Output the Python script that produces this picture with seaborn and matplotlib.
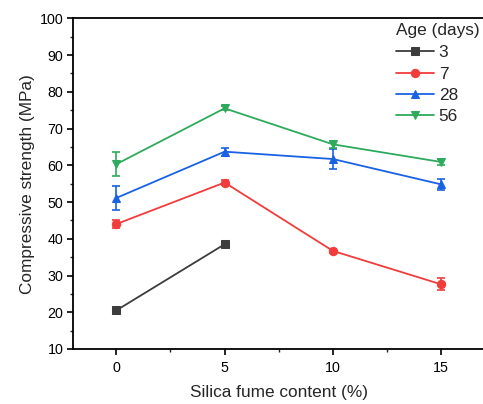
import matplotlib
matplotlib.use("Agg")
import matplotlib.pyplot as plt
import seaborn as sns
import pandas as pd
import numpy as np
from matplotlib.ticker import MultipleLocator

sns.set_theme(style="ticks")
plt.rcParams['font.family'] = ['Liberation Sans', 'DejaVu Sans']

sf_content = [0, 5, 10, 15]
ages = ["3", "7", "28", "56"]
strength_3 = [20.5, 38.5]
strength_7 = [44.0, 55.3, 36.7, 27.6]
strength_28 = [51.1, 63.7, 61.7, 54.8]
strength_56 = [60.3, 75.5, 65.7, 60.9]
err_3 = [0.4, 0.5]
err_7 = [1.0, 0.8, 0.6, 1.6]
err_28 = [3.3, 1.1, 2.8, 1.5]
err_56 = [3.2, 0.5, 1.0, 0.9]

series = {
    "3": (sf_content[:2], strength_3, err_3),
    "7": (sf_content, strength_7, err_7),
    "28": (sf_content, strength_28, err_28),
    "56": (sf_content, strength_56, err_56),
}
colors = {"3": "#3c3c3c", "7": "#f23c3c", "28": "#1a62e4", "56": "#2eaa5c"}
markers = {"3": "s", "7": "o", "28": "^", "56": "v"}

fig = plt.figure(figsize=(4.83, 4.04), dpi=100)
ax = fig.add_axes([73/483, 1 - 349/404, (484.5 - 73)/483, (349 - 18.3)/404])

for age in ages:
    xs, ys, es = series[age]
    df = pd.DataFrame({"x": xs, "y": ys})
    ax.errorbar(xs, ys, yerr=es, fmt="none", ecolor=colors[age], elinewidth=1.2,
                capsize=3, capthick=1.2, zorder=2)
    sns.lineplot(data=df, x="x", y="y", ax=ax, color=colors[age], marker=markers[age],
                 markersize=6, markeredgecolor=colors[age], linewidth=1.3, label=age,
                 zorder=3)

ax.set_xlim(-2, 17)
ax.set_ylim(10, 100)
ax.xaxis.set_major_locator(MultipleLocator(5))
ax.xaxis.set_minor_locator(MultipleLocator(2.5))
ax.yaxis.set_major_locator(MultipleLocator(10))
ax.yaxis.set_minor_locator(MultipleLocator(5))
ax.tick_params(axis="both", which="major", direction="out", length=4, width=1.2,
               labelsize=10.3, colors="black")
ax.tick_params(axis="x", which="major", pad=5)
ax.tick_params(axis="y", which="major", pad=3)
ax.tick_params(axis="both", which="minor", direction="out", length=2.5, width=1.0)
for s in ax.spines.values():
    s.set_linewidth(1.3)
    s.set_color("black")
ax.set_xlabel("Silica fume content (%)", fontsize=12.4, labelpad=7)
ax.set_ylabel("Compressive strength (MPa)", fontsize=12.4, labelpad=3)

leg = ax.legend(title="Age (days)", loc="upper right", frameon=False, fontsize=12.4,
                title_fontsize=12.4, handlelength=2.2, handletextpad=0.3,
                borderaxespad=0.0, labelspacing=0.35, borderpad=0.3,
                bbox_to_anchor=(1.0, 1.0))
leg._legend_box.align = "left"
leg._legend_box.sep = 5

fig.savefig("out.png", dpi=100)
